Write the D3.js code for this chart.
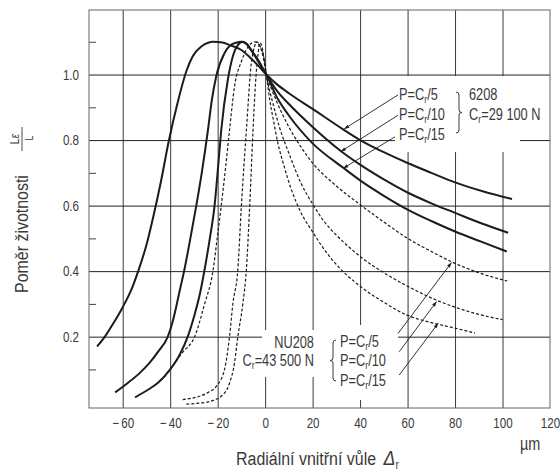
<!DOCTYPE html>
<html><head><meta charset="utf-8">
<script src="https://cdn.jsdelivr.net/npm/d3@7"></script>
<style>
body{margin:0;background:#fff}
svg{display:block;font-family:"Liberation Sans",Arial,sans-serif}
</style></head><body>
<svg id="c" width="560" height="471"></svg>
<script>
// ---- data ----
const xTicks = [-60, -40, -20, 0, 20, 40, 60, 80, 100, 120];
const yTicks = [0.2, 0.4, 0.6, 0.8, 1.0];
const yMinorTicks = [0.1, 0.3, 0.5, 0.7, 0.9, 1.1];

// 6208 (solid), [clearance µm, Lε/L]
const b6208_P5 = [[-70.8,0.17],[-67.5,0.2],[-64,0.24],[-60,0.29],[-56,0.35],[-53,0.41],[-50,0.48],[-47,0.57],[-44,0.67],[-40.5,0.8],[-37,0.91],[-33.2,1.01],[-30.5,1.056],[-27,1.085],[-24,1.097],[-22,1.1],[-18,1.098],[-15,1.09],[-10,1.075],[-6.5,1.053],[-3,1.028],[0.5,1.0],[5,0.97],[10,0.943],[20,0.895],[33,0.832],[40,0.80],[50,0.763],[60,0.73],[70,0.70],[80,0.671],[92,0.643],[104,0.62]];
const b6208_P10 = [[-63.2,0.03],[-58,0.058],[-53,0.088],[-48.7,0.12],[-45,0.155],[-41,0.2],[-39,0.245],[-37.5,0.29],[-36,0.34],[-34,0.405],[-31.5,0.5],[-29,0.6],[-26.7,0.7],[-24.1,0.83],[-22.5,0.92],[-20.6,0.995],[-17.1,1.066],[-14.5,1.09],[-12.2,1.097],[-10,1.1],[-8,1.094],[-6.5,1.08],[-3,1.045],[0.5,1.0],[5,0.95],[10,0.91],[20,0.84],[32,0.766],[40,0.725],[50,0.68],[60,0.64],[70,0.607],[80,0.578],[91,0.546],[102.4,0.517]];
const b6208_P15 = [[-54.8,0.015],[-50,0.035],[-45,0.06],[-40,0.1],[-36,0.145],[-32.6,0.2],[-30,0.26],[-27.5,0.33],[-25.5,0.405],[-23.3,0.5],[-21.3,0.6],[-19.8,0.72],[-18.5,0.83],[-15.7,0.985],[-13.6,1.056],[-11.5,1.09],[-9.4,1.1],[-7.5,1.092],[-5.1,1.066],[-2.5,1.035],[0.5,1.0],[5,0.93],[10,0.875],[20,0.79],[33,0.715],[40,0.677],[50,0.63],[60,0.588],[70,0.553],[80,0.521],[91,0.49],[101.8,0.46]];

// NU208 (dashed)
const nu208_P5 = [[-44,0.065],[-40,0.1],[-35,0.15],[-29.7,0.2],[-25.5,0.3],[-22,0.4],[-20.2,0.5],[-18.5,0.6],[-16.6,0.72],[-15,0.83],[-12.9,0.964],[-10,1.04],[-7.9,1.076],[-5.5,1.097],[-4.4,1.1],[-2.5,1.09],[-1,1.06],[0.5,1.0],[3,0.95],[5,0.915],[10,0.84],[15,0.78],[20,0.73],[30,0.66],[40,0.603],[50,0.55],[60,0.50],[70,0.46],[79,0.427],[90,0.395],[102,0.37]];
const nu208_P10 = [[-34.7,0.008],[-31,0.012],[-27.6,0.018],[-24,0.03],[-20.6,0.048],[-17.1,0.1],[-15,0.2],[-13.6,0.30],[-11.5,0.405],[-10,0.6],[-7.9,0.83],[-5.8,1.036],[-4.5,1.085],[-3.5,1.1],[-2,1.085],[-0.5,1.05],[0.5,1.0],[3,0.92],[6,0.84],[10,0.76],[15,0.67],[20,0.605],[25,0.55],[30,0.51],[40,0.445],[50,0.395],[60,0.354],[72,0.312],[80,0.29],[90,0.268],[100,0.252]];
const nu208_P15 = [[-33.2,-0.006],[-28,-0.003],[-24,0.001],[-21,0.008],[-18.5,0.018],[-15,0.058],[-12.9,0.12],[-11.5,0.2],[-9.4,0.30],[-7.9,0.405],[-6.5,0.6],[-5.1,0.83],[-4,0.98],[-3,1.06],[-2.3,1.097],[-1.5,1.09],[-0.5,1.05],[0.5,1.0],[2,0.92],[3.5,0.86],[5.4,0.79],[8,0.72],[11,0.65],[15,0.58],[20,0.52],[25,0.465],[30,0.42],[40,0.354],[50,0.305],[60,0.265],[70,0.243],[80,0.226],[88.4,0.211]];

// annotation arrows: [fromX, fromY, toX, toY] in data units
const arrows6208 = [[56.0,0.938,33.3,0.834],[56.0,0.876,31.9,0.765],[54.7,0.81,32.9,0.714]];
const arrowsNU208 = [[56.0,0.21,78.5,0.426],[56.5,0.154,72.2,0.307],[56.5,0.083,72.9,0.241]];
const loadLabels = ["5", "10", "15"];

// ---- chart ----
const svg = d3.select("#c");
const L = 89, R = 550, T = 10, B = 408;
const x = d3.scaleLinear().domain([-74.2, 120]).range([L, R]);
const y = d3.scaleLinear().domain([-0.0177, 1.197]).range([B, T]);
const ink = "#1c1c1c", txt = "#3a3a3a";

svg.append("defs").append("marker")
  .attr("id", "ah").attr("viewBox", "0 0 10 10").attr("refX", 10).attr("refY", 5)
  .attr("markerWidth", 8).attr("markerHeight", 5).attr("markerUnits", "userSpaceOnUse")
  .attr("orient", "auto")
  .append("path").attr("d", "M0,1.5 L10,5 L0,8.5 Z").attr("fill", ink);

// grid
const gx = svg.append("g").attr("transform", `translate(0,${B})`)
  .call(d3.axisBottom(x).tickValues(xTicks.filter(v => v < 120)).tickSize(-(B - T)).tickFormat(""));
gx.select(".domain").remove();
gx.selectAll("line").attr("stroke", "#3a3a3a").attr("stroke-width", 1);

const gy = svg.append("g").attr("transform", `translate(${L},0)`)
  .call(d3.axisLeft(y).tickValues(yTicks).tickSize(-(R - L)).tickFormat(""));
gy.select(".domain").remove();
gy.selectAll("line").attr("stroke", "#222").attr("stroke-width", 1);

const gm = svg.append("g").attr("transform", `translate(${L},0)`)
  .call(d3.axisLeft(y).tickValues(yMinorTicks).tickSize(-7).tickFormat(""));
gm.select(".domain").remove();
gm.selectAll("line").attr("stroke", "#444").attr("stroke-width", 1);

// frame
svg.append("rect").attr("x", L).attr("y", T).attr("width", R - L).attr("height", B - T)
  .attr("fill", "none").attr("stroke", "#666").attr("stroke-width", 1);

// tick labels
const lx = svg.append("g").attr("transform", `translate(0,${B})`)
  .call(d3.axisBottom(x).tickValues(xTicks).tickSize(0).tickPadding(10)
    .tickFormat(d => d < 0 ? "\u2212\u2009" + Math.abs(d) : String(d)));
lx.select(".domain").remove();
lx.selectAll("text").attr("font-size", 14.5).attr("fill", txt).attr("font-family", null).classed("cond", true);

const ly = svg.append("g").attr("transform", `translate(${L},0)`)
  .call(d3.axisLeft(y).tickValues(yTicks).tickSize(0).tickPadding(10).tickFormat(d3.format(".1f")));
ly.select(".domain").remove();
ly.selectAll("text").attr("font-size", 14.5).attr("fill", txt).attr("font-family", null).classed("cond", true);

// white label boxes
svg.append("rect").attr("x", 395).attr("y", 76).attr("width", 125).attr("height", 76).attr("fill", "#fff");
svg.append("rect").attr("x", 262).attr("y", 330).attr("width", 56).attr("height", 47).attr("fill", "#fff");
svg.append("rect").attr("x", 318).attr("y", 325).attr("width", 80).attr("height", 75).attr("fill", "#fff");

// curves
const line = d3.line().x(d => x(d[0])).y(d => y(d[1])).curve(d3.curveMonotoneX);
const series = [
  {d: b6208_P5, dash: null}, {d: b6208_P10, dash: null}, {d: b6208_P15, dash: null},
  {d: nu208_P5, dash: "3,2"}, {d: nu208_P10, dash: "3,2"}, {d: nu208_P15, dash: "3,2"}
];
svg.append("g").selectAll("path").data(series).join("path")
  .attr("d", s => line(s.d)).attr("fill", "none").attr("stroke", ink)
  .attr("stroke-width", s => s.dash ? 1.2 : 2)
  .attr("stroke-dasharray", s => s.dash);

// arrows
svg.append("g").selectAll("line").data(arrows6208.concat(arrowsNU208)).join("line")
  .attr("x1", a => x(a[0])).attr("y1", a => y(a[1]))
  .attr("x2", a => x(a[2])).attr("y2", a => y(a[3]))
  .attr("stroke", ink).attr("stroke-width", 0.9).attr("marker-end", "url(#ah)");

// load labels
function loadLabel(g, xp, yp, n) {
  const t = g.append("text").attr("x", xp).attr("y", yp).attr("font-size", 16).attr("fill", txt).classed("cond", true);
  t.append("tspan").text("P=C");
  t.append("tspan").text("r").attr("font-size", 11).attr("dy", 3);
  t.append("tspan").text("/" + n).attr("dy", -3);
}
const ann = svg.append("g");
[100, 120, 140].forEach((yp, i) => loadLabel(ann, 399, yp, loadLabels[i]));
[347, 366, 386].forEach((yp, i) => loadLabel(ann, 340, yp, loadLabels[i]));

ann.append("text").attr("x", 469).attr("y", 100).attr("font-size", 16).attr("fill", txt).classed("cond", true).text("6208");
const c1 = ann.append("text").attr("x", 469).attr("y", 120).attr("font-size", 16).attr("fill", txt).classed("cond", true);
c1.append("tspan").text("C");
c1.append("tspan").text("r").attr("font-size", 11).attr("dy", 3);
c1.append("tspan").text("=29 100 N").attr("dy", -3);

ann.append("text").attr("x", 314).attr("y", 348).attr("text-anchor", "end").attr("font-size", 16).attr("fill", txt).classed("cond", true).text("NU208");
const c2 = ann.append("text").attr("x", 314).attr("y", 366).attr("text-anchor", "end").attr("font-size", 16).attr("fill", txt).classed("cond", true);
c2.append("tspan").text("C");
c2.append("tspan").text("r").attr("font-size", 11).attr("dy", 3);
c2.append("tspan").text("=43 500 N").attr("dy", -3);

// braces
ann.append("path").attr("fill", "none").attr("stroke", txt).attr("stroke-width", 1)
  .attr("d", "M456,92 q3,0 3,3 v15 q0,2.5 3,2.5 q-3,0 -3,2.5 v15 q0,3 -3,3");
ann.append("path").attr("fill", "none").attr("stroke", txt).attr("stroke-width", 1)
  .attr("d", "M336,340 q-3,0 -3,3 v15 q0,2.5 -3,2.5 q3,0 3,2.5 v15 q0,3 3,3");

// axis titles
const xt = svg.append("text").attr("x", 236).attr("y", 465).attr("font-size", 19).attr("fill", txt).classed("condT", true);
xt.append("tspan").text("Radiální vnitřní vůle");
xt.append("tspan").text("\u0394").attr("dx", 9).attr("font-style", "italic").attr("font-size", 21);
xt.append("tspan").text("r").attr("font-size", 12).attr("dy", 4);

svg.append("text").attr("x", 520).attr("y", 450).attr("font-size", 18).attr("fill", txt).classed("cond", true).text("\u00b5m");

const yt = svg.append("g").attr("transform", "translate(28,230) rotate(-90)");
yt.append("text").attr("x", -63).attr("y", 0).attr("font-size", 19).attr("fill", txt).classed("condT", true).text("Poměr životnosti");
const fr = yt.append("g").attr("font-size", 13).attr("fill", txt);
const num = fr.append("text").attr("x", 91).attr("y", -9).attr("text-anchor", "middle").classed("cond", true);
num.append("tspan").text("L");
num.append("tspan").text("\u03b5").attr("font-style", "italic");
fr.append("line").attr("x1", 79).attr("x2", 103).attr("y1", -6).attr("y2", -6).attr("stroke", txt).attr("stroke-width", 0.9);
fr.append("text").attr("x", 92).attr("y", 5).attr("text-anchor", "middle").attr("font-size", 11).classed("cond", true).text("L");

// condense text horizontally (reference uses a condensed face)
function condense(sel, k) {
  sel.each(function () {
    const x0 = parseFloat(this.getAttribute("x")) || 0;
    this.setAttribute("transform", `translate(${x0},0) scale(${k},1) translate(${-x0},0)`);
  });
}
condense(svg.selectAll("text.cond"), 0.8);
condense(svg.selectAll("text.condT"), 0.84);
</script>
</body></html>
